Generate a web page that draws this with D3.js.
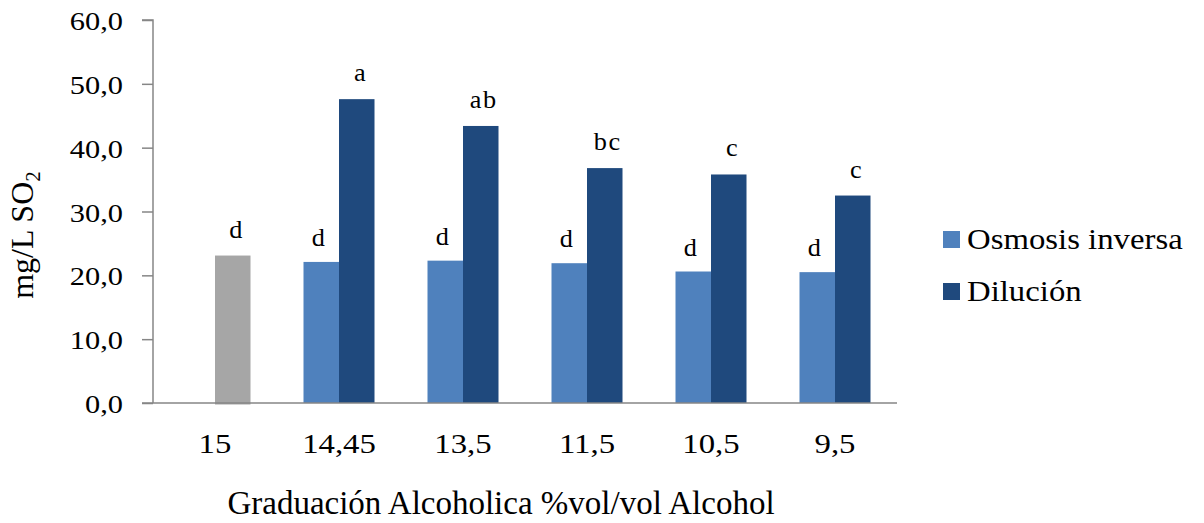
<!DOCTYPE html>
<html>
<head>
<meta charset="utf-8">
<script src="https://cdn.jsdelivr.net/npm/d3@7"></script>
<style>
  html, body { margin: 0; padding: 0; background: #fff; }
  svg { display: block; }
  text { font-family: "Liberation Serif", "Times New Roman", serif; fill: #000; }
</style>
</head>
<body>
<svg id="chart" width="1204" height="523"></svg>
<script>
// Alcohol content of each wine (% vol/vol)
const categories = ["15", "14,45", "13,5", "11,5", "10,5", "9,5"];
// Free SO2 (mg/L) per dealcoholisation method; the 15 % wine is the untreated base
const osmosis  = [null, 22.1, 22.3, 21.9, 20.6, 20.5];
const dilucion = [23.1, 47.6, 43.4, 36.8, 35.8, 32.5];
// Significance letters above each bar
const osmosisLetters  = ["", "d", "d", "d", "d", "d"];
const dilucionLetters = ["d", "a", "ab", "bc", "c", "c"];
const seriesNames = ["Osmosis inversa", "Dilución"];
const yTicks = [0, 10, 20, 30, 40, 50, 60];

const colors = { osmosis: "#4F81BD", dilucion: "#1F497D", base: "#A6A6A6", axis: "#868686" };
const stretch = 1.17; // wide serif lettering

const svg = d3.select("#chart");

const x = d3.scaleBand().domain(categories).range([153, 897]).paddingInner(0).paddingOuter(0);
const slot = d3.scaleBand().domain(["osmosis", "dilucion"]).range([0, 71]);
const groupOffset = (x.bandwidth() - 71) / 2;
const y = d3.scaleLinear().domain([0, 60]).range([403, 20]);
const fmt = v => d3.format(".1f")(v).replace(".", ",");

// Horizontal text with a widened glyph scale around its anchor
function wideText(parent, px, py, str, size, anchor, sx = stretch) {
  const g = parent.append("g").attr("transform", `translate(${px},${py}) scale(${sx},1)`);
  return g.append("text").attr("x", 0).attr("y", 0)
    .attr("font-size", size).attr("text-anchor", anchor).text(str);
}

// Bars
const rows = categories.map((c, i) => ({ c, i, osm: osmosis[i], dil: dilucion[i] }));
const barG = svg.append("g");

rows.forEach(r => {
  if (r.osm != null) {
    barG.append("rect")
      .attr("x", x(r.c) + groupOffset + slot("osmosis"))
      .attr("y", y(r.osm))
      .attr("width", slot.bandwidth())
      .attr("height", y(0) - y(r.osm))
      .attr("fill", colors.osmosis);
  }
  barG.append("rect")
    .attr("x", x(r.c) + groupOffset + slot("dilucion"))
    .attr("y", y(r.dil))
    .attr("width", slot.bandwidth())
    .attr("height", y(0) - y(r.dil) + (r.osm == null ? 1.5 : 0))
    .attr("fill", r.osm == null ? colors.base : colors.dilucion);
});

// Letters
const labG = svg.append("g");
rows.forEach(r => {
  if (r.osm != null && osmosisLetters[r.i]) {
    wideText(labG, x(r.c) + groupOffset + slot("osmosis") + slot.bandwidth() / 2 - 3,
      y(r.osm) - 16, osmosisLetters[r.i], 25, "middle", 1.05);
  }
  const t = wideText(labG, x(r.c) + groupOffset + slot("dilucion") + slot.bandwidth() / 2 + 3,
    y(r.dil) - 18, dilucionLetters[r.i], 25, "middle", 1.05);
  if (dilucionLetters[r.i].length > 1) t.attr("letter-spacing", 1.5);
});

// Y axis
const yAxis = d3.axisLeft(y).tickValues(yTicks).tickSize(11).tickFormat("");
const yg = svg.append("g").attr("transform", "translate(153,0)").call(yAxis);
yg.select(".domain").attr("stroke", colors.axis).attr("stroke-width", 1.5)
  .attr("d", `M-11,${y(60)}H0V${y(0)}`);
yg.selectAll(".tick line").attr("stroke", colors.axis).attr("stroke-width", 1.5);
yTicks.forEach(v => wideText(svg, 123, y(v) + 10, fmt(v), 26, "end"));

// X axis
const xAxis = d3.axisBottom(x).tickSize(0).tickFormat("");
const xg = svg.append("g").attr("transform", `translate(0,${y(0)})`).call(xAxis);
xg.select(".domain").attr("stroke", colors.axis).attr("stroke-width", 1.5)
  .attr("d", `M142,0H897`);
categories.forEach(c => wideText(svg, x(c) + x.bandwidth() / 2, 453, c, 28, "middle"));

// Axis titles
const yt = svg.append("text")
  .attr("transform", "translate(33,235) rotate(-90)")
  .attr("text-anchor", "middle").attr("font-size", 32);
yt.append("tspan").text("mg/L SO");
yt.append("tspan").attr("font-size", 21).attr("dy", 7).text("2");

wideText(svg, 501, 514, "Graduación Alcoholica %vol/vol Alcohol", 33, "middle", 1.0);

// Legend
const legend = svg.append("g");
[["osmosis", 0], ["dilucion", 1]].forEach(([key, k]) => {
  const ly = 231 + k * 52;
  legend.append("rect").attr("x", 943).attr("y", ly).attr("width", 17).attr("height", 17)
    .attr("fill", colors[key]);
  wideText(legend, 967, ly + 18, seriesNames[k], 29, "start", 1.13);
});
</script>
</body>
</html>
